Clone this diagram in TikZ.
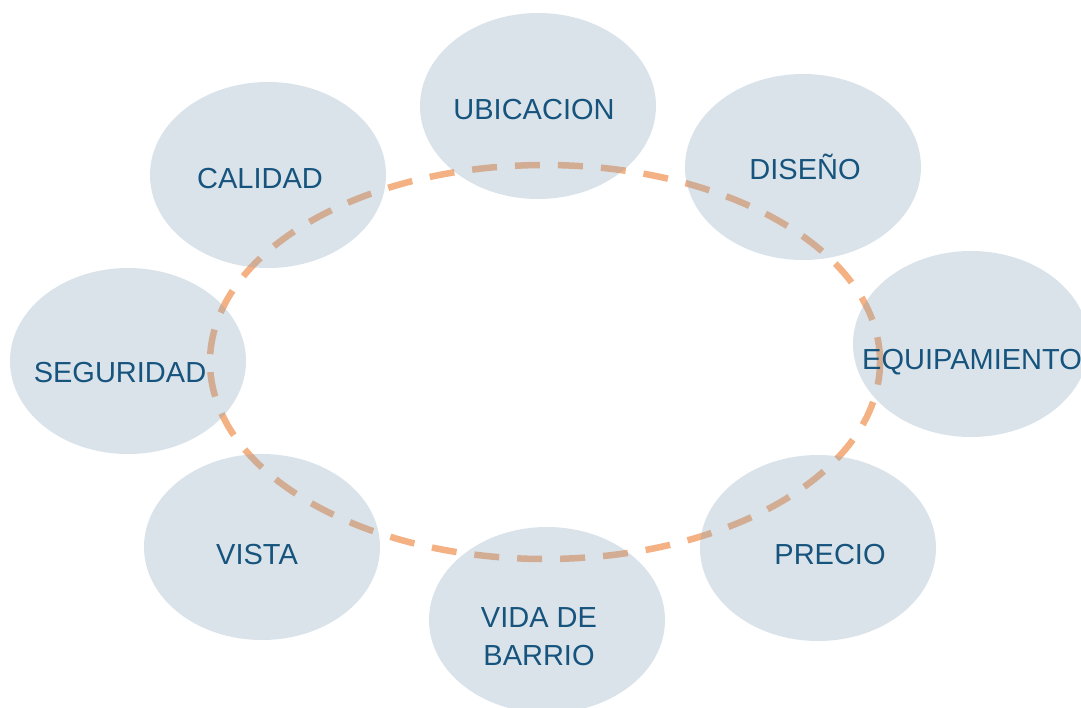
\documentclass[tikz,border=0pt]{standalone}
\usepackage{fontspec}
\setmainfont{Liberation Sans}
\usetikzlibrary{shapes.geometric}
\definecolor{blobfill}{RGB}{132,162,185}
\definecolor{ringorange}{RGB}{244,177,131}
\definecolor{textblue}{RGB}{22,84,126}
\tikzset{
  blob/.style={ellipse, fill=blobfill, fill opacity=0.3, draw=none,
    minimum width=236pt, minimum height=186pt, inner sep=0pt},
  lbl/.style={font=\fontsize{29}{38}\selectfont, text=textblue, inner sep=0pt, align=center},
  ring/.style={draw=ringorange, line width=6.5pt, dash pattern=on 25pt off 18pt}
}
\begin{document}
\begin{tikzpicture}[x=1pt,y=-1pt]
\useasboundingbox (0,0) rectangle (1081,707);
\coordinate (c) at (545,362);
\draw[ring] (c) ellipse [x radius=335pt, y radius=197pt];
\node[blob] (b-ubic) at (538,106) {};
\node[blob] (b-dise) at (803,167) {};
\node[blob] (b-equi) at (971,344) {};
\node[blob] (b-prec) at (818,548) {};
\node[blob] (b-vida) at (547,620) {};
\node[blob] (b-vist) at (262,547) {};
\node[blob] (b-segu) at (128,361) {};
\node[blob] (b-cali) at (268,175) {};
\node[lbl, anchor=base] (t-ubic) at (534,119) {UBICACION};
\node[lbl, anchor=base] (t-dise) at (805,179) {DISEÑO};
\node[lbl, anchor=base] (t-equi) at (972,369) {EQUIPAMIENTO};
\node[lbl, anchor=base] (t-prec) at (830,564) {PRECIO};
\node[lbl] (t-vida) at (539,637) {VIDA DE\\BARRIO};
\node[lbl, anchor=base] (t-vist) at (257,564) {VISTA};
\node[lbl, anchor=base] (t-segu) at (120,382) {SEGURIDAD};
\node[lbl, anchor=base] (t-cali) at (260,188) {CALIDAD};
\end{tikzpicture}
\end{document}
